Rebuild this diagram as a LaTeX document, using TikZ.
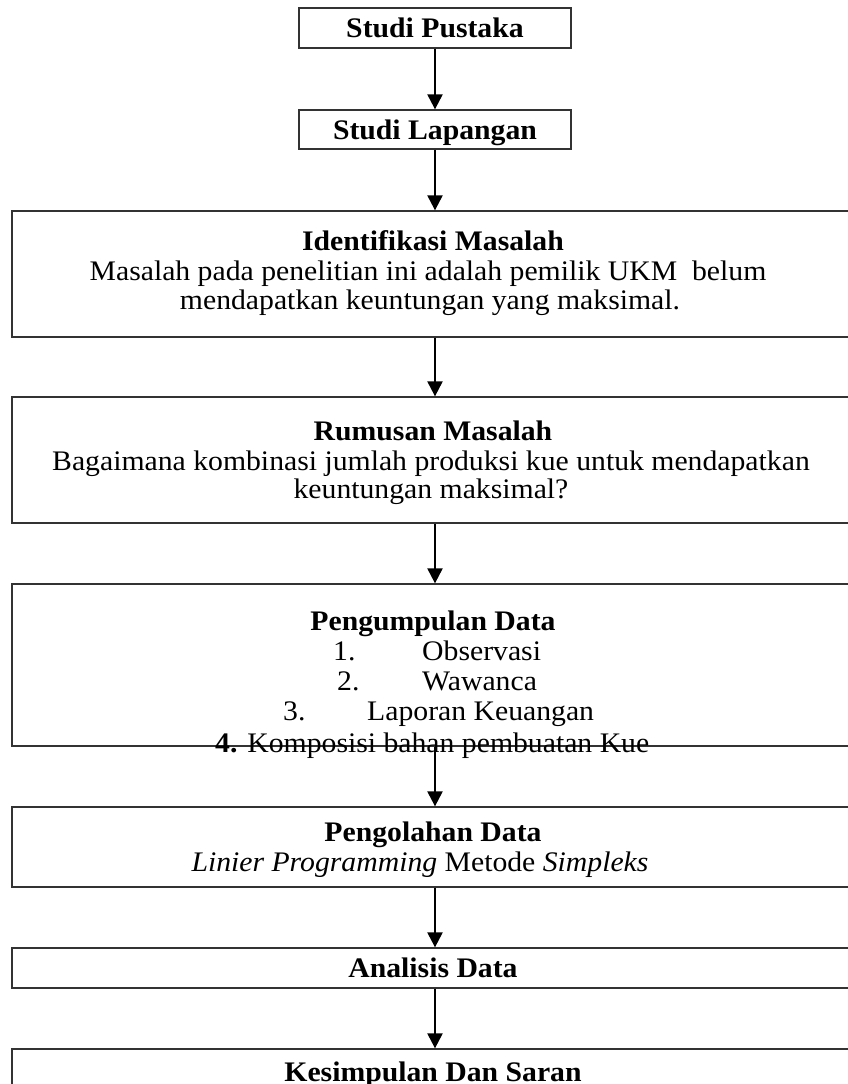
\documentclass[tikz,border=0pt]{standalone}
\usepackage{fontspec}
\setmainfont{Liberation Serif}[FakeStretch=1.05]
\usetikzlibrary{arrows.meta}
\begin{document}
\begin{tikzpicture}[x=1pt,y=-1pt,
  boxline/.style={draw=black!80, line width=1.3pt, inner sep=0pt},
  txt/.style={inner sep=0pt, anchor=base, font=\fontsize{28.3}{31}\selectfont},
  txtw/.style={inner sep=0pt, anchor=base west, font=\fontsize{28.3}{31}\selectfont},
  ttl/.style={inner sep=0pt, anchor=base, font=\fontsize{28.3}{31}\selectfont\bfseries},
  arr/.style={line width=2.2pt, -{Triangle[length=15pt,width=15pt]}}]
\useasboundingbox (0,0) rectangle (848,1084);
\clip (0,0) rectangle (848,1084);
% boxes
\node[boxline, minimum width=272pt, minimum height=40pt] (b1) at (435,28) {};
\node[boxline, minimum width=272pt, minimum height=39pt] (b2) at (435,129.5) {};
\node[boxline, minimum width=846pt, minimum height=126pt] (b3) at (435,274) {};
\node[boxline, minimum width=846pt, minimum height=126pt] (b4) at (435,460) {};
\node[boxline, minimum width=846pt, minimum height=162pt] (b5) at (435,665) {};
\node[boxline, minimum width=846pt, minimum height=80pt] (b6) at (435,847) {};
\node[boxline, minimum width=846pt, minimum height=40pt] (b7) at (435,968) {};
\node[boxline, minimum width=846pt, minimum height=80pt] (b8) at (435,1089) {};
% texts
\node[ttl] (t1) at (435,37) {Studi Pustaka};
\node[ttl] (t2) at (435,139) {Studi Lapangan};
\node[ttl] (t3a) at (433,250) {Identifikasi Masalah};
\node[txt] (t3b) at (428,280) {Masalah pada penelitian ini adalah pemilik UKM\ \ belum};
\node[txt] (t3c) at (430,309) {mendapatkan keuntungan yang maksimal.};
\node[ttl] (t4a) at (433,440) {Rumusan Masalah};
\node[txt] (t4b) at (431,470) {Bagaimana kombinasi jumlah produksi kue untuk mendapatkan};
\node[txt] (t4c) at (431,498) {keuntungan maksimal?};
\node[ttl] (t5a) at (433,630) {Pengumpulan Data};
\node[txtw] (t5n1) at (333,660) {1.};
\node[txtw] (t5l1) at (422,660) {Observasi};
\node[txtw] (t5n2) at (337,690) {2.};
\node[txtw] (t5l2) at (422,690) {Wawanca};
\node[txtw] (t5n3) at (283,720) {3.};
\node[txtw] (t5l3) at (367,720) {Laporan Keuangan};
\node[txtw] (t5l4) at (215,752) {\textbf{4.} Komposisi bahan pembuatan Kue};
\node[ttl] (t6a) at (433,841) {Pengolahan Data};
\node[txt] (t6b) at (420,871) {\textit{Linier Programming} Metode \textit{Simpleks}};
\node[ttl] (t7) at (433,977) {Analisis Data};
\node[ttl] (t8) at (433,1081) {Kesimpulan Dan Saran};
% arrows
\draw[arr] (b1.south) -- (b2.north);
\draw[arr] (b2.south) -- (b3.north -| b2.south);
\draw[arr] (b3.south -| b2.south) -- (b4.north -| b2.south);
\draw[arr] (b4.south -| b2.south) -- (b5.north -| b2.south);
\draw[arr] (b5.south -| b2.south) -- (b6.north -| b2.south);
\draw[arr] (b6.south -| b2.south) -- (b7.north -| b2.south);
\draw[arr] (b7.south -| b2.south) -- (b8.north -| b2.south);
\end{tikzpicture}
\end{document}
